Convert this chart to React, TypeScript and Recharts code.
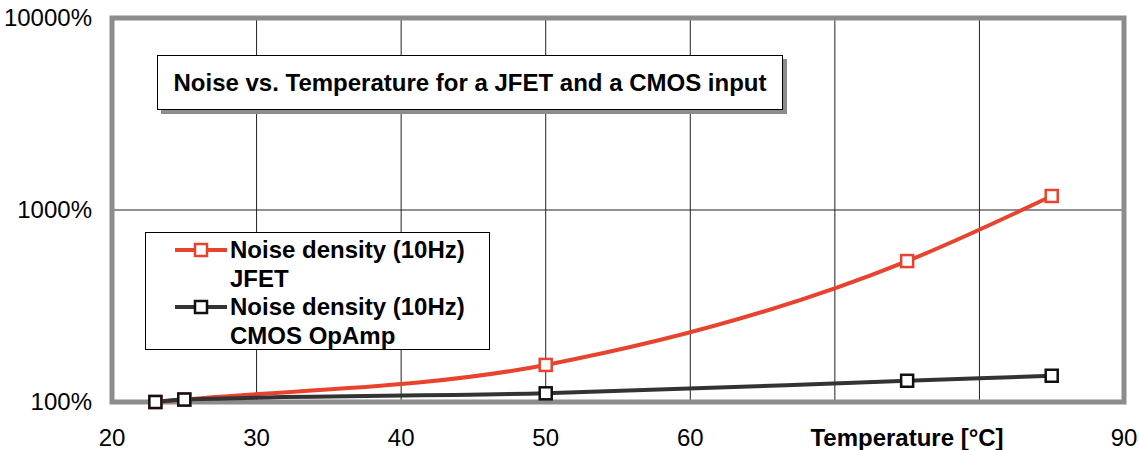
import React from "react";
import {
  CartesianGrid,
  Line,
  LineChart,
  ReferenceArea,
  XAxis,
  YAxis,
} from "recharts";

const temps = [23, 25, 50, 75, 85];
const jfetNoise = [100, 103, 156, 542, 1183];
const cmosNoise = [100, 103, 111, 129, 137];

const xTicks = [20, 30, 40, 50, 60, 70, 80, 90];
const hiddenXTicks = [70, 80];
const yTicks = [100, 1000, 10000];

const TITLE = "Noise vs. Temperature for a JFET and a CMOS input";
const X_TITLE = "Temperature [°C]";
const SERIES = [
  { key: "jfet", line1: "Noise density (10Hz)", line2: "JFET", color: "#e8432e", marker: "#e8432e" },
  { key: "cmos", line1: "Noise density (10Hz)", line2: "CMOS OpAmp", color: "#333333", marker: "#111111" },
];

const data = temps.map((t, i) => ({ t, jfet: jfetNoise[i], cmos: cmosNoise[i] }));

const FONT = "'Liberation Sans', Arial, sans-serif";

function SquareDot(color: string) {
  return (props: any) => {
    const { cx, cy } = props;
    if (cx == null || cy == null) return null;
    return (
      <rect
        key={`${cx}-${cy}`}
        x={cx - 6}
        y={cy - 6}
        width={12}
        height={12}
        fill="#fff"
        stroke={color}
        strokeWidth={2.5}
      />
    );
  };
}

function XTick(props: any) {
  const { x, payload } = props;
  if (hiddenXTicks.includes(payload.value)) return null;
  return (
    <text x={x} y={446} textAnchor="middle" fontFamily={FONT} fontSize={24} fill="#000">
      {payload.value}
    </text>
  );
}

function YTick(props: any) {
  const { y, payload } = props;
  return (
    <text x={92} y={y} dy={8} textAnchor="end" fontFamily={FONT} fontSize={24} fill="#000">
      {`${payload.value}%`}
    </text>
  );
}

function LegendBox() {
  return (
    <div
      style={{
        position: "absolute",
        left: 145,
        top: 232,
        width: 345,
        height: 118,
        boxSizing: "border-box",
        border: "1px solid #000",
        background: "#fff",
        fontFamily: FONT,
        fontWeight: "bold",
        fontSize: 24,
        lineHeight: "28.5px",
        padding: "3px 0 0 0",
      }}
    >
      {SERIES.map((s) => (
        <div key={s.key} style={{ display: "flex" }}>
          <svg width={84} height={28} style={{ flex: "none" }}>
            <line x1={29} x2={81} y1={14} y2={14} stroke={s.color} strokeWidth={4} />
            <rect x={49} y={8} width={12} height={12} fill="#fff" stroke={s.marker} strokeWidth={2.5} />
          </svg>
          <div>
            <div>{s.line1}</div>
            <div>{s.line2}</div>
          </div>
        </div>
      ))}
    </div>
  );
}

export default function App() {
  return (
    <div style={{ position: "absolute", left: 0, top: 0, width: 1139, height: 450, background: "#fff" }}>
      <LineChart
        width={1139}
        height={450}
        data={data}
        margin={{ top: 18, right: 15, left: 0, bottom: 0 }}
      >
        <CartesianGrid stroke="#222" strokeWidth={1} horizontalValues={[1000]} />
        <XAxis
          dataKey="t"
          type="number"
          domain={[20, 90]}
          ticks={xTicks}
          tick={<XTick />}
          axisLine={false}
          tickLine={false}
          interval={0}
          height={48}
        />
        <YAxis
          scale="log"
          domain={[100, 10000]}
          ticks={yTicks}
          tick={<YTick />}
          axisLine={false}
          tickLine={false}
          width={112}
        />
        <ReferenceArea
          x1={20}
          x2={90}
          y1={100}
          y2={10000}
          fill="none"
          fillOpacity={0}
          stroke="#8c8c8c"
          strokeWidth={5}
          ifOverflow="visible"
        />
        <Line
          type="monotone"
          dataKey="jfet"
          stroke={SERIES[0].color}
          strokeWidth={4}
          dot={SquareDot(SERIES[0].marker)}
          isAnimationActive={false}
        />
        <Line
          type="monotone"
          dataKey="cmos"
          stroke={SERIES[1].color}
          strokeWidth={4}
          dot={SquareDot(SERIES[1].marker)}
          isAnimationActive={false}
        />
        <text x={907} y={446} textAnchor="middle" fontFamily={FONT} fontSize={24} fontWeight="bold" fill="#000">
          {X_TITLE}
        </text>
      </LineChart>
      <LegendBox />
      <div
        style={{
          position: "absolute",
          left: 157,
          top: 55,
          width: 626,
          height: 55,
          boxSizing: "border-box",
          border: "1px solid #000",
          background: "#fff",
          boxShadow: "4px 4px 0 #8c8c8c",
          fontFamily: FONT,
          fontWeight: "bold",
          fontSize: 24,
          display: "flex",
          alignItems: "center",
          justifyContent: "center",
        }}
      >
        {TITLE}
      </div>
    </div>
  );
}
